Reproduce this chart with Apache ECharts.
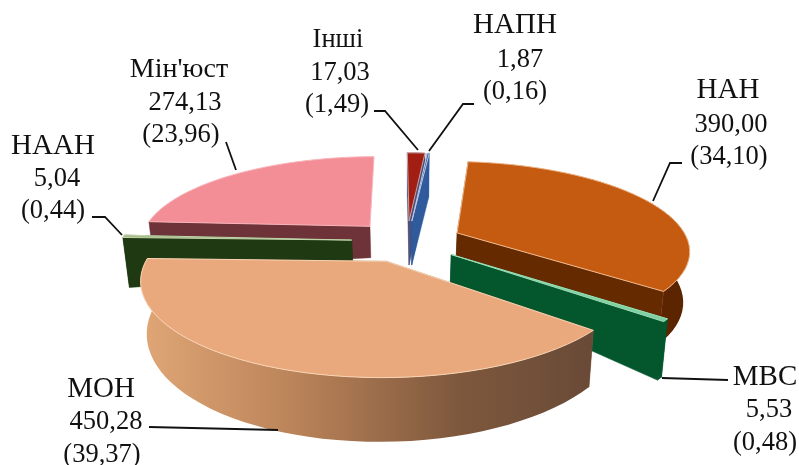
<!DOCTYPE html>
<html><head><meta charset="utf-8">
<style>html,body{margin:0;padding:0;background:#fff}#c{width:799px;height:465px}</style>
<script src="https://cdn.jsdelivr.net/npm/echarts@6/dist/echarts.min.js"></script>
</head><body><div id="c"></div>
<script>
// data
const names  = ['НАН','МВС','МОН','НААН',"Мін'юст",'Інші','НАПН'];
const values = [390.00,5.53,450.28,5.04,274.13,17.03,1.87];
const shares = [34.10,0.48,39.37,0.44,23.96,1.49,0.16];
// styles
const topColors  = ['#C55A11','#7FD0A0','#E9A97C','#A6BC8A','#F48E96','#A31E12','#2358A0'];
const edgeColors = ['#F0B98C','#9FE0B8','#F8D4B4','#C4D4AC','#F8B4BA','#C9A0A0','#C8C8E0'];
const wallColors = ['#662A00','#04572C','#8A5A3C','#1F3A12','#6E3338','#4A4E7A','#2F5A9C'];
const arcWall = {
  0:[[0,'#6E2E02'],[1,'#5A2400']],
  2:[[0,'#E0A676'],[0.35,'#B98258'],[0.7,'#7E583D'],[1,'#694A37']]
};
const drawOrder = [5,6,4,3,0,1,2];
const nameSizes = [29,29,29,29,28,26.5,29];
const numSize = 26.5;
const hiddenEndWall = [4];
const flatDepth = {5:44,6:44};
// projection & layout
const L = {cx:407,cy:241,A:231,B:87,p:0.18,explode:0.24,start:5.5,base:0.977,d0:28,d1:18};
const labelLayout = [
  {xs:[728,731,729],y:[98,133,165]},
  {xs:[765,769,765],y:[385,418,451]},
  {xs:[101,106,102],y:[397,430,463]},
  {xs:[53,57,53],y:[154,187,219]},
  {xs:[179,185,181],y:[78,111,143]},
  {xs:[338,340,337],y:[48,81,113]},
  {xs:[515,520,515],y:[33,68,100]}
];
const leaders = [
  [[682,163],[670,163],[653,201]],
  [[728,380],[662,378]],
  [[149,427],[278,430]],
  [[92,217],[105,217],[122,235]],
  [[226,142],[236,170]],
  [[374,111],[385,111],[418,150]],
  [[474,104],[463,104],[429,151]]
];
const total = shares.reduce((a,b)=>a+b,0);
function angles(i){
  let s=0; for(let k=0;k<i;k++) s+=shares[k];
  return [L.start+s/total*360, L.start+(s+shares[i])/total*360];
}
const rad=d=>d*Math.PI/180;
function topPt(X,Y){
  const g=1/(1-L.p*Y);
  return [L.cx+L.A*X*g, L.cy+L.B*Y*g];
}
function botPt(X,Y,i){
  const t=topPt(X,Y), r=Math.hypot(X,Y), g=1/(1-L.p*Y);
  const d=flatDepth[i]!==undefined?flatDepth[i]:(L.d0+L.d1*r)*g;
  return [L.cx+(t[0]-L.cx)*L.base, t[1]+d];
}
function renderSlice(params,api){
  const i=api.value(0), a=angles(i), bis=(a[0]+a[1])/2;
  const ox=L.explode*Math.sin(rad(bis)), oy=-L.explode*Math.cos(rad(bis));
  const arc=[], steps=Math.max(2,Math.ceil((a[1]-a[0])/3));
  for(let k=0;k<=steps;k++){
    const t=rad(a[0]+(a[1]-a[0])*k/steps);
    arc.push([ox+Math.sin(t),oy-Math.cos(t)]);
  }
  const apex=[ox,oy];
  const T=p=>topPt(p[0],p[1]), Bt=p=>botPt(p[0],p[1],i);
  const z=drawOrder.indexOf(i)*10;
  const poly=(pts,style,dz)=>({type:'polygon',z2:z+dz,shape:{points:pts},style,silent:true});
  const wallFill=wallColors[i];
  const children=[];
  const first=arc[0], last=arc[arc.length-1];
  children.push(poly([T(apex),T(first),Bt(first),Bt(apex)],{fill:wallFill,stroke:wallFill,lineWidth:0.5},0));
  if(!hiddenEndWall.includes(i)){
    children.push(poly([T(apex),T(last),Bt(last),Bt(apex)],{fill:wallFill,stroke:wallFill,lineWidth:0.5},1));
  }
  const fill=arcWall[i]?{type:'linear',x:0,y:0,x2:1,y2:0,colorStops:arcWall[i].map(s=>({offset:s[0],color:s[1]}))}:wallFill;
  if(!hiddenEndWall.includes(i)){
    children.push(poly(arc.map(T).concat(arc.slice().reverse().map(Bt)),{fill,lineWidth:0},2));
  }
  children.push(poly([T(apex)].concat(arc.map(T)),{fill:topColors[i],stroke:edgeColors[i],lineWidth:1},3));
  return {type:'group',children};
}
function renderLabel(params,api){
  const i=api.value(0), lay=labelLayout[i];
  const lines=[names[i],values[i].toFixed(2).replace('.',','),'('+shares[i].toFixed(2).replace('.',',')+')'];
  const children=lines.map((t,k)=>({type:'text',z2:200,silent:true,
    x:lay.xs[k],y:lay.y[k]+7,
    style:{text:t,fill:'#111',font:(k===0?nameSizes[i]:numSize)+'px "Liberation Serif"',align:'center',verticalAlign:'bottom',lineHeight:30}}));
  children.push({type:'polyline',z2:190,silent:true,shape:{points:leaders[i]},
    style:{stroke:'#111',lineWidth:1.8,fill:null}});
  return {type:'group',children};
}
const chart=echarts.init(document.getElementById('c'),null,{renderer:'canvas'});
const rows=shares.map((v,i)=>[i,v]);
chart.setOption({
  animation:false,backgroundColor:'#fff',
  series:[
    {type:'custom',coordinateSystem:'none',renderItem:renderSlice,data:rows,z:2},
    {type:'custom',coordinateSystem:'none',renderItem:renderLabel,data:rows,z:3}
  ]
});
</script></body></html>
